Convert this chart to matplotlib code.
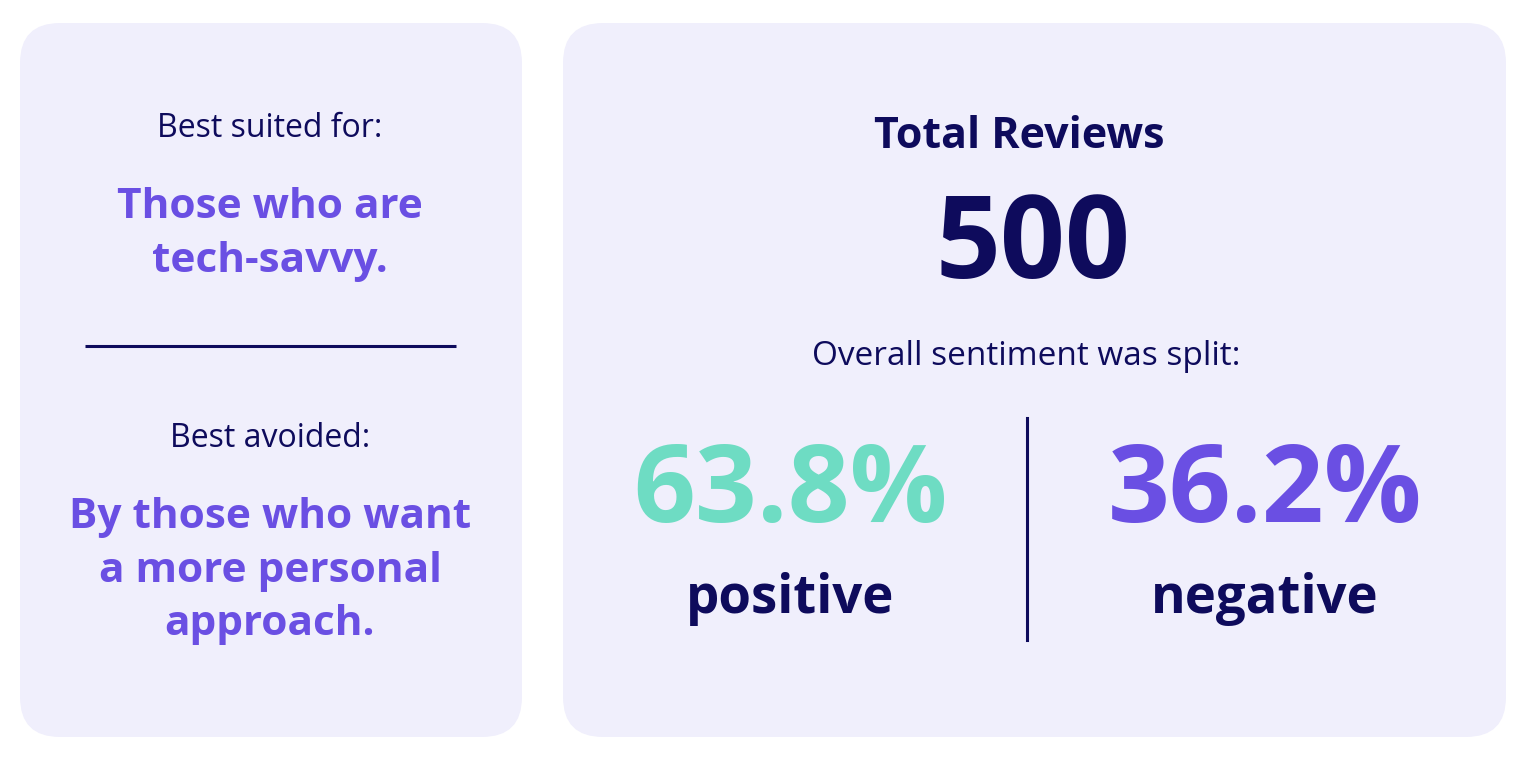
import matplotlib.pyplot as plt
from matplotlib.patches import FancyBboxPatch

# content
suited_label = 'Best suited for:'
suited_text = ['Those who are', 'tech-savvy.']
avoided_label = 'Best avoided:'
avoided_text = ['By those who want', 'a more personal', 'approach.']
total_label = 'Total Reviews'
total_reviews = 500
sentiment_label = 'Overall sentiment was split:'
sentiment_names = ['positive', 'negative']
sentiment_pcts = [63.8, 36.2]

navy = '#0E0B5C'
purple = '#6A4FE3'
teal = '#6EDCC3'
card = '#F0EFFC'
sentiment_colors = [teal, purple]

plt.rcParams['font.family'] = ['Open Sans', 'DejaVu Sans']

fig = plt.figure(figsize=(15.24, 7.64), dpi=100)
ax = fig.add_axes([0, 0, 1, 1])
ax.set_xlim(0, 1524)
ax.set_ylim(764, 0)
ax.axis('off')

# cards
for x0, x1 in [(20, 522), (563, 1506)]:
    ax.add_patch(FancyBboxPatch((x0 + 40, 23 + 40), x1 - x0 - 80, 714 - 80,
                                boxstyle='round,pad=40', fc=card, ec='none'))

# left card
ax.text(270, 137, suited_label, ha='center', va='baseline', fontsize=23, color=navy)
for i, line in enumerate(suited_text):
    ax.text(270, 218 + i * 54, line, ha='center', va='baseline', fontsize=30.5,
            color=purple, fontweight='bold')
ax.plot([85, 456], [346, 346], color=navy, lw=2.2, solid_capstyle='butt')
ax.text(270, 447, avoided_label, ha='center', va='baseline', fontsize=23, color=navy)
for i, line in enumerate(avoided_text):
    ax.text(270, 528 + i * 53.5, line, ha='center', va='baseline', fontsize=30.5,
            color=purple, fontweight='bold')

# right card
ax.text(1019, 148, total_label, ha='center', va='baseline', fontsize=31,
        color=navy, fontweight='bold')
ax.text(1033, 278, str(total_reviews), ha='center', va='baseline', fontsize=82,
        color=navy, fontweight='bold')
ax.text(1026, 365, sentiment_label, ha='center', va='baseline', fontsize=24, color=navy)
ax.plot([1027, 1027], [418, 640], color=navy, lw=2.2)
for cx, name, pct, col in zip([790, 1265], sentiment_names, sentiment_pcts, sentiment_colors):
    ax.text(cx, 522, f'{pct:.1f}%', ha='center', va='baseline', fontsize=78,
            color=col, fontweight='bold')
    ax.text(cx, 613, name, ha='center', va='baseline', fontsize=38,
            color=navy, fontweight='bold')

fig.savefig('out.png', dpi=100, facecolor='white')
